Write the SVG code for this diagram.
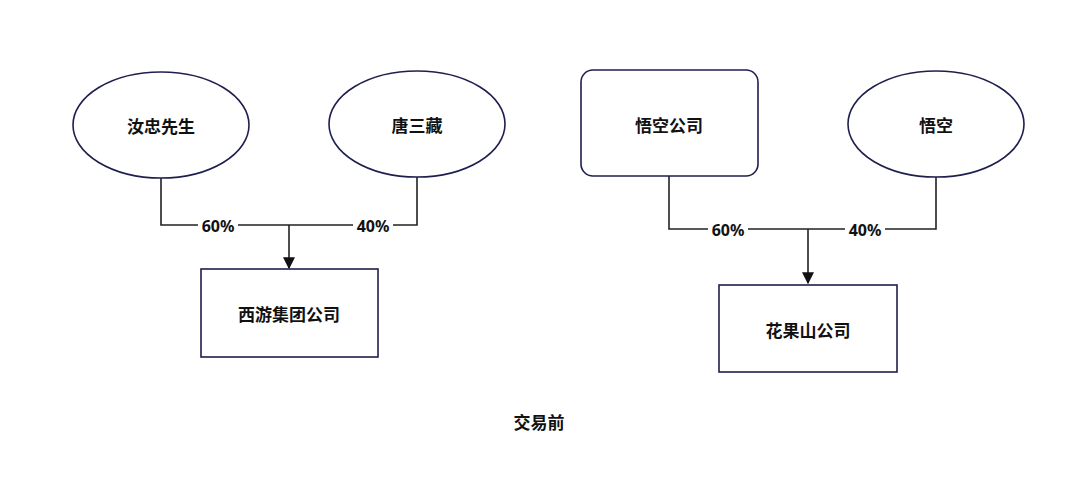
<svg xmlns="http://www.w3.org/2000/svg" width="1080" height="483" viewBox="0 0 1080 483">
<style>
.n{fill:#fff;stroke:#1f1f4f;stroke-width:1.6}
.t{font-family:"Noto Sans CJK SC","Noto Sans",sans-serif;font-weight:bold;font-size:17px;fill:#111;text-anchor:middle;dominant-baseline:central}
.c{fill:none;stroke:#222;stroke-width:1.6}
.l{font-family:"Noto Sans","Liberation Sans",sans-serif;font-weight:bold;font-size:16px;fill:#111;text-anchor:middle;dominant-baseline:central}
.lb{fill:#fff}
</style>
<defs><marker id="b" viewBox="0 0 10 10" refX="9" refY="5" markerWidth="12" markerHeight="12" orient="auto" markerUnits="userSpaceOnUse"><path d="M0,0L10,5L0,10z" fill="#111"/></marker></defs>
<rect width="1080" height="483" fill="#fff"/>
<g id="connectors">
<path class="c" d="M161,177V225H417V177"/>
<path class="c" d="M289,225V268" marker-end="url(#b)"/>
<path class="c" d="M669,176V229H936V177"/>
<path class="c" d="M808,229V283" marker-end="url(#b)"/>
<rect class="lb" x="198" y="217" width="40" height="17"/><text class="l" x="218" y="226">60%</text>
<rect class="lb" x="353" y="217" width="40" height="17"/><text class="l" x="373" y="226">40%</text>
<rect class="lb" x="708" y="221" width="40" height="17"/><text class="l" x="728" y="230">60%</text>
<rect class="lb" x="845" y="221" width="40" height="17"/><text class="l" x="865" y="230">40%</text>
</g>
<g id="n1"><ellipse class="n" cx="161" cy="125" rx="88" ry="53"/><text class="t" x="161" y="125">汝忠先生</text></g>
<g id="n2"><ellipse class="n" cx="417" cy="124" rx="88" ry="53"/><text class="t" x="417" y="124">唐三藏</text></g>
<g id="n3"><rect class="n" x="201" y="269" width="177" height="88"/><text class="t" x="289" y="313">西游集团公司</text></g>
<g id="n4"><rect class="n" x="581" y="70" width="177" height="106" rx="12"/><text class="t" x="669" y="124">悟空公司</text></g>
<g id="n5"><ellipse class="n" cx="936" cy="124" rx="88" ry="53"/><text class="t" x="936" y="124">悟空</text></g>
<g id="n6"><rect class="n" x="719" y="285" width="178" height="87"/><text class="t" x="808" y="329">花果山公司</text></g>
<text class="t" x="539" y="421">交易前</text>
</svg>
